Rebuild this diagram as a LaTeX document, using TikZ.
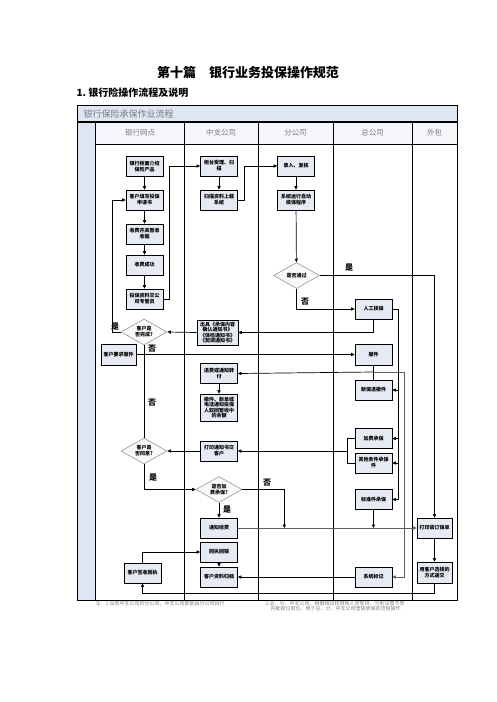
\documentclass[tikz,border=0pt]{standalone}
\usepackage{fontspec}
\setmainfont{Noto Sans CJK SC}
\usepackage{tikz}
\usetikzlibrary{arrows.meta,positioning,shapes.geometric,calc}
\definecolor{BoxFill}{RGB}{230,234,243}
\definecolor{BandFill}{RGB}{221,230,242}
\definecolor{HeadFill}{RGB}{244,246,250}
\definecolor{LaneGray}{RGB}{125,125,125}
\definecolor{DiaGray}{RGB}{150,150,150}

\begin{document}
\begin{tikzpicture}[x=1pt,y=-1pt,
  stepbox/.style={rectangle,draw=black,fill=BoxFill,line width=0.8pt,minimum width=37pt,
                  minimum height=20pt,inner sep=1pt,align=center,
                  font=\fontsize{5}{6}\selectfont\bfseries},
  decide/.style={diamond,draw=DiaGray,fill=gray!5,line width=0.6pt,aspect=1.8,
                 minimum width=46pt,minimum height=26pt,inner sep=0pt,align=center,
                 font=\fontsize{5}{6}\selectfont\bfseries},
  flow/.style={-{Triangle[length=3.5pt,width=3.2pt]},line width=0.7pt},
  link/.style={line width=0.7pt},
  greyflow/.style={-{Triangle[length=3.5pt,width=3.2pt]},line width=1pt,color=gray!75!black},
  lanehead/.style={font=\fontsize{7.5}{9}\selectfont,text=LaneGray},
  yesno/.style={font=\fontsize{8}{9}\selectfont\bfseries},
  note/.style={font=\fontsize{5}{5.6}\selectfont,text=gray,anchor=west,align=left},
]
\useasboundingbox (0,0) rectangle (496,702);

%% Titles
\node[font=\fontsize{13}{15}\selectfont\bfseries] (title) at (248,73) {第十篇　银行业务投保操作规范};
\node[anchor=west,font=\fontsize{10}{12}\selectfont\bfseries] (head) at (73,93) {1.\ 银行险操作流程及说明};

%% Frame and lanes
\fill[BandFill] (77,105) rectangle (457,122);
\fill[BandFill] (77,122) rectangle (95,600);
\fill[HeadFill] (95,122) rectangle (457,144);
\draw[line width=0.6pt] (77,105) rectangle (457,600);
\draw[line width=1.6pt] (77,122)--(457,122);
\draw[line width=0.7pt] (95,122)--(95,600);
\draw[line width=0.7pt] (95,144)--(457,144);
\foreach \x in {184,258,333,412}
  \draw[line width=0.7pt] (\x,122)--(\x,600);
\node[anchor=west,font=\fontsize{9}{10}\selectfont,text=LaneGray] (band) at (80,114) {银行保险承保作业流程};
\node[lanehead] (laneA) at (140,133)   {银行网点};
\node[lanehead] (laneB) at (221,133)   {中支公司};
\node[lanehead] (laneC) at (295.5,133) {分公司};
\node[lanehead] (laneD) at (372.5,133) {总公司};
\node[lanehead] (laneE) at (434.5,133) {外包};

%% Lane: bank outlet
\node[stepbox] (b1) at (144.5,166.5) {银行柜面介绍\\保险产品};
\node[stepbox] (b2) at (144.5,200)   {客户填写投保\\申请书};
\node[stepbox] (b3) at (144.5,234)   {收费开具暂收\\收据};
\node[stepbox] (b4) at (144.5,265)   {收费成功};
\node[stepbox] (b5) at (144.5,299)   {投保资料交公\\司专管员};
\node[decide]  (d1) at (144,332)     {客户是\\否完成?};
\node[stepbox,minimum width=35pt,minimum height=21pt] (b6) at (118.5,354.5) {客户要求撤件};
\node[decide]  (d2) at (144,451)     {客户是\\否同意?};
\node[stepbox] (b7) at (142.5,573)   {客户签收回执};

%% Lane: sub-branch
\node[stepbox] (z1) at (219,166)   {柜台受理、扫\\描};
\node[stepbox] (z2) at (219,200)   {扫描资料上载\\系统};
\node[stepbox,minimum width=41pt,minimum height=25pt,font=\fontsize{5}{5.6}\selectfont\bfseries]
               (z3) at (217.5,332.5) {出具《承保内容\\确认通知书》\\《体检通知书》\\《契调通知书》};
\node[stepbox] (z4) at (219,373.5) {退费或通知转\\付};
\node[stepbox,minimum height=27pt,font=\fontsize{5}{5.6}\selectfont\bfseries]
               (z5) at (219,407.5) {撤件、新单或\\电话通知投保\\人取回暂收中\\的余额};
\node[stepbox] (z6) at (219,451)   {打印通知书交\\客户};
\node[decide]  (d3) at (219,489.5) {是否加\\费承保?};
\node[stepbox] (z7) at (219,528)   {通知收费};
\node[stepbox] (z8) at (219,552)   {回执回销};
\node[stepbox] (z9) at (219,577)   {客户资料归档};

%% Lane: branch
\node[stepbox] (f1) at (296,166)   {录入、复核};
\node[stepbox] (f2) at (296,200)   {系统运行自动\\核保程序};
\node[decide]  (d4) at (296.5,275.5) {是否通过};

%% Lane: head office
\node[stepbox] (h1) at (373.5,309)   {人工核保};
\node[stepbox,minimum height=21pt] (h2) at (373.5,354.5) {撤件};
\node[stepbox] (h3) at (373.5,390)   {新保退撤件};
\node[stepbox] (h4) at (373.5,438.5) {加费承保};
\node[stepbox] (h5) at (373.5,463)   {其他条件承保\\件};
\node[stepbox] (h6) at (373.5,499.5) {标准件承保};
\node[stepbox] (h7) at (373.5,577)   {系统标记};

%% Lane: outsourcing
\node[stepbox,minimum width=35pt] (w1) at (434.5,528)   {打印装订保单};
\node[stepbox,minimum width=35pt,minimum height=21pt] (w2) at (434.5,572.5) {用客户选择的\\方式递交};

%% Connectors
\draw[flow](b1)--(b2); \draw[flow](b2)--(b3); \draw[flow](b3)--(b4); \draw[flow](b4)--(b5);
\draw[flow](b5.east)--++(6,0)|-(z1.west);
\draw[flow](z1)--(z2);
\draw[flow](z2.east)--++(6,0)|-(f1.west);
\draw[flow](f1)--(f2); \draw[flow](f2)--(d4);
\draw[flow](d4.east)-|(w1.north);
\draw[flow](d4.south)|-(h1.west);
\draw[flow](h1.south)|-(z3.east);
\draw[flow](z3.west)--(d1.east);
\draw[flow](d1.west)--++(-8,0)|-(b2.west);
\draw[link](d1.south)--(d2.north);
\draw[flow](b6.east)--(h2.west);
\coordinate (j1) at (373.5,372);
\draw[link](h2.south)--(h3.north);
\draw[flow](j1)--(z4.east);
\draw[greyflow](j1)--++(30.5,0)|-(h7.east);
\draw[flow](z4)--(z5);
\draw[link](h1.east)--++(6,0) coordinate (r1)--(r1|-h6.east);
\foreach \n in {h3,h4,h5,h6}
  \draw[flow](r1|-\n.east)--(\n.east);
\draw[link](h4.west)--++(-7,0) coordinate (l1)|-(h5.west);
\draw[flow](l1|-z6.east)--(z6.east);
\draw[flow](z6.west)--(d2.east);
\draw[flow](d2.south)|-(d3.west);
\draw[flow](d3.east)--++(42,0) coordinate (c1)--(c1|-z7.east);
\draw[flow](d3.south)--(z7.north);
\draw[greyflow](z7.east)--(w1.west);
\draw[flow](h6.south)--(h6.south|-z7.east);
\draw[flow](w1)--(w2);
\draw[flow](w2.south)--++(0,9.5)-|(b7.south);
\draw[flow](b7.north)|-(z8.west);
\draw[flow](z8)--(z9);
\draw[flow](h7.west)--(z9.east);

%% Yes / no labels
\node[yesno] (y1) at (115,327) {是};
\node[yesno] (n1) at (152,349) {否};
\node[yesno] (n2) at (152,403) {否};
\node[yesno] (y2) at (153,478) {是};
\node[yesno] (y3) at (227,510) {是};
\node[yesno] (n3) at (267,483) {否};
\node[yesno] (y4) at (349,268) {是};
\node[yesno] (n4) at (305,302) {否};

%% Notes
\node[note] (noteA) at (92,603.5) {注：1.没有中支公司的分公司，中支公司职能由分公司执行};
\node[note] (noteB) at (262,606) {2.总、分、中支公司，根据相应权限和人员安排，分别设置不同\\\hspace{5pt}内勤岗位岗位，用于总、分、中支公司营销承保的流程操作};

\end{tikzpicture}
\end{document}
